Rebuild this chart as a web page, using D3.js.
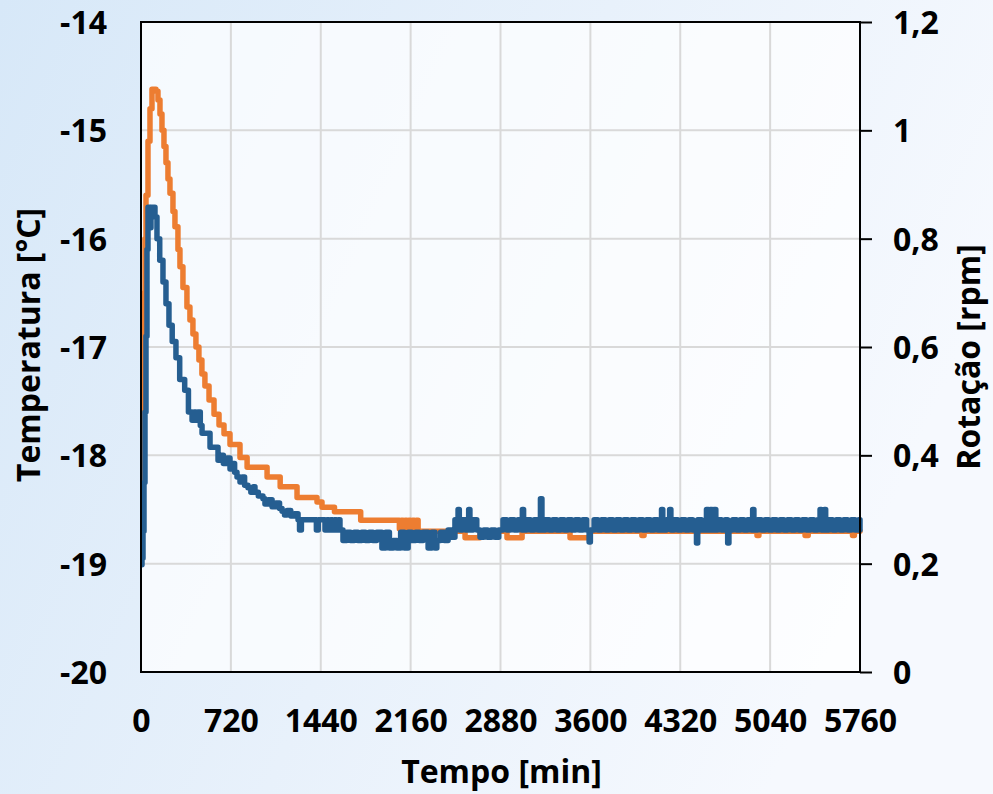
<!DOCTYPE html>
<html>
<head>
<meta charset="utf-8">
<script src="https://cdn.jsdelivr.net/npm/d3@7"></script>
<style>
  html, body { margin: 0; padding: 0; }
  body { width: 993px; height: 794px; overflow: hidden; }
  svg text { font-family: "Open Sans", "DejaVu Sans", sans-serif; font-weight: 700; fill: #000; }
</style>
</head>
<body>
<svg id="chart" width="993" height="794"></svg>
<script>
// ---------- data ----------
const timeTicks = [0, 720, 1440, 2160, 2880, 3600, 4320, 5040, 5760];
const tempTicks = [-20, -19, -18, -17, -16, -15, -14];
const rotTicks = [0, 0.2, 0.4, 0.6, 0.8, 1.0, 1.2];
const rotTickLabels = ["0", "0,2", "0,4", "0,6", "0,8", "1", "1,2"];

const xTitle = "Tempo [min]";
const yLeftTitle = "Temperatura [°C]";
const yRightTitle = "Rotação [rpm]";

// Temperatura (orange, left axis): [minutes, °C]
const temperatura = [
  [0,-18.60],[8,-17.9],[16,-17.2],[24,-16.5],[32,-16.0],[40,-15.6],[56,-15.1],[72,-14.8],
  [88,-14.62],[120,-14.64],[136,-14.72],[152,-14.85],[168,-15.0],[184,-15.15],[200,-15.3],
  [216,-15.45],[232,-15.58],[256,-15.75],[272,-15.89],[296,-16.1],[312,-16.26],[336,-16.45],
  [368,-16.63],[392,-16.75],[416,-16.88],[440,-17.0],[464,-17.12],[488,-17.25],[512,-17.36],
  [545,-17.49],[585,-17.62],[625,-17.72],[665,-17.80],[713,-17.90],[793,-18.02],[850,-18.11],
  [1010,-18.20],[1115,-18.29],[1250,-18.39],[1410,-18.43],[1450,-18.48],[1550,-18.52],
  [1760,-18.60],[2070,-18.68],[2085,-18.60],[2100,-18.68],[2115,-18.60],[2130,-18.68],
  [2145,-18.60],[2160,-18.68],[2175,-18.60],[2190,-18.68],[2205,-18.60],[2220,-18.70],
  [2596,-18.76],[2716,-18.70],[2932,-18.76],[3053,-18.70],[3437,-18.76],[3597,-18.70],
  [4013,-18.74],[4030,-18.70],[4935,-18.74],[4950,-18.70],[5320,-18.74],[5345,-18.70],
  [5700,-18.74],[5715,-18.70],[5760,-18.70]
];

// Rotação (blue, right axis): [minutes, rpm]
const rotacao = [
  [0,0.198],[8,0.21],[16,0.26],[24,0.35],[32,0.48],[40,0.62],[48,0.78],[56,0.858],[72,0.82],
  [80,0.858],[112,0.84],[128,0.80],[150,0.76],[176,0.72],[200,0.68],[224,0.64],[250,0.61],
  [280,0.58],[310,0.54],[350,0.52],[380,0.48],[409,0.465],[425,0.48],[440,0.465],[455,0.48],
  [475,0.455],[489,0.441],[553,0.415],[617,0.391],[640,0.40],[660,0.385],[690,0.395],
  [713,0.375],[730,0.385],[750,0.369],[769,0.36],[793,0.351],[810,0.36],[830,0.345],
  [857,0.34],[880,0.332],[900,0.342],[913,0.332],[940,0.325],[977,0.32],[993,0.31],
  [1020,0.318],[1050,0.305],[1080,0.312],[1110,0.302],[1130,0.297],[1150,0.29],[1170,0.298],
  [1200,0.288],[1230,0.292],[1258,0.281],[1270,0.262],[1285,0.281],[1405,0.262],[1420,0.281],
  [1474,0.262],[1490,0.281],[1505,0.262],[1520,0.281],[1535,0.262],[1550,0.281],[1565,0.262],
  [1580,0.281],[1594,0.262],
  [1618,0.243],[1648,0.258],[1678,0.243],[1708,0.258],[1738,0.243],[1768,0.258],[1798,0.243],
  [1828,0.258],[1858,0.243],[1888,0.258],[1930,0.229],[1960,0.258],[1990,0.229],[2020,0.243],
  [2050,0.229],[2080,0.258],[2110,0.229],[2140,0.258],[2170,0.243],[2200,0.258],[2230,0.243],
  [2260,0.258],[2300,0.229],[2330,0.258],[2355,0.229],[2370,0.243],[2400,0.258],[2430,0.243],
  [2460,0.262],[2490,0.249],
  [2515,0.281],[2540,0.30],[2550,0.262],[2575,0.281],[2600,0.262],[2625,0.30],[2635,0.262],
  [2660,0.281],[2690,0.262],
  [2716,0.249],[2746,0.262],[2776,0.249],[2806,0.262],[2836,0.249],[2866,0.262],
  [2900,0.281],[2930,0.262],[2960,0.281],[2990,0.262],[3020,0.281],[3050,0.262],[3055,0.30],
  [3065,0.262],[3090,0.281],[3120,0.262],[3150,0.281],[3180,0.262],[3200,0.32],[3212,0.262],
  [3240,0.281],[3270,0.262],[3300,0.281],[3330,0.262],[3360,0.281],[3390,0.262],[3420,0.281],
  [3450,0.262],[3480,0.281],[3510,0.262],[3540,0.281],[3570,0.262],[3590,0.24],[3600,0.262],
  [3630,0.281],[3660,0.262],[3690,0.281],[3720,0.262],[3750,0.281],[3780,0.262],[3810,0.281],
  [3840,0.262],[3870,0.281],[3900,0.262],[3930,0.281],[3960,0.262],[3990,0.281],[4020,0.262],
  [4050,0.281],[4080,0.262],[4110,0.281],[4140,0.262],[4170,0.30],[4180,0.262],[4210,0.281],
  [4235,0.30],[4245,0.262],[4270,0.281],[4300,0.262],[4330,0.281],[4360,0.262],[4390,0.281],
  [4420,0.262],[4450,0.238],[4460,0.281],[4490,0.262],[4530,0.30],[4545,0.262],[4560,0.30],
  [4575,0.262],[4590,0.30],[4605,0.262],[4620,0.281],[4650,0.262],[4680,0.281],[4700,0.238],
  [4710,0.262],[4740,0.281],[4770,0.262],[4800,0.281],[4830,0.262],[4860,0.281],[4890,0.262],
  [4900,0.30],[4910,0.262],[4940,0.281],[4970,0.262],[5000,0.281],[5030,0.262],[5060,0.281],
  [5090,0.262],[5120,0.281],[5150,0.262],[5180,0.281],[5210,0.262],[5240,0.281],[5270,0.262],
  [5300,0.281],[5330,0.262],[5360,0.281],[5390,0.262],[5420,0.281],[5440,0.30],[5450,0.262],
  [5475,0.30],[5485,0.262],[5510,0.281],[5540,0.262],[5570,0.281],[5600,0.262],[5630,0.281],
  [5660,0.262],[5690,0.281],[5720,0.262],[5750,0.281],[5760,0.262]
];

// ---------- layout ----------
const W = 993, H = 794;
const plot = { left: 141, right: 860, top: 22, bottom: 672 };

const svg = d3.select("#chart");

const defs = svg.append("defs");
const bg = defs.append("linearGradient").attr("id", "bg")
  .attr("x1", "0").attr("y1", "0").attr("x2", "1").attr("y2", "0.35");
bg.append("stop").attr("offset", "0").attr("stop-color", "#d7e8f8");
bg.append("stop").attr("offset", "0.55").attr("stop-color", "#e8f1fb");
bg.append("stop").attr("offset", "1").attr("stop-color", "#f6f9fe");
defs.append("clipPath").attr("id", "clip").append("rect")
  .attr("x", plot.left).attr("y", plot.top - 5)
  .attr("width", plot.right - plot.left + 3).attr("height", plot.bottom - plot.top + 10);

svg.append("rect").attr("width", W).attr("height", H).attr("fill", "url(#bg)");
svg.append("rect").attr("x", plot.left).attr("y", plot.top)
  .attr("width", plot.right - plot.left).attr("height", plot.bottom - plot.top)
  .attr("fill", "#ffffff").attr("fill-opacity", 0.72);

const x = d3.scaleLinear().domain([0, 5760]).range([plot.left, plot.right]);
const yT = d3.scaleLinear().domain([-20, -14]).range([plot.bottom, plot.top]);
const yR = d3.scaleLinear().domain([0, 1.2]).range([plot.bottom, plot.top]);

// gridlines
const grid = svg.append("g").attr("stroke", "#d9d9d9").attr("stroke-width", 2);
grid.selectAll("line.v").data(timeTicks).join("line").attr("class", "v")
  .attr("x1", d => x(d)).attr("x2", d => x(d)).attr("y1", plot.top).attr("y2", plot.bottom);
grid.selectAll("line.h").data(tempTicks).join("line").attr("class", "h")
  .attr("x1", plot.left).attr("x2", plot.right).attr("y1", d => yT(d)).attr("y2", d => yT(d));

// series
const lineT = d3.line().x(d => x(d[0])).y(d => yT(d[1])).curve(d3.curveStepAfter);
const lineR = d3.line().x(d => x(d[0])).y(d => yR(d[1])).curve(d3.curveStepAfter);
const series = svg.append("g").attr("clip-path", "url(#clip)");
series.append("path").datum(temperatura).attr("d", lineT)
  .attr("fill", "none").attr("stroke", "#ED7D31").attr("stroke-width", 5.5)
  .attr("stroke-linejoin", "round").attr("stroke-linecap", "round");
series.append("path").datum(rotacao).attr("d", lineR)
  .attr("fill", "none").attr("stroke", "#255E91").attr("stroke-width", 5.5)
  .attr("stroke-linejoin", "round").attr("stroke-linecap", "round");

// frame
svg.append("rect").attr("x", plot.left).attr("y", plot.top)
  .attr("width", plot.right - plot.left).attr("height", plot.bottom - plot.top)
  .attr("fill", "none").attr("stroke", "#000").attr("stroke-width", 2);

// axes
const fs = 32;
const gx = svg.append("g").attr("transform", `translate(0,${plot.bottom})`)
  .call(d3.axisBottom(x).tickValues(timeTicks).tickFormat(d3.format("d")).tickSize(0).tickPadding(37));
const gl = svg.append("g").attr("transform", `translate(${plot.left},0)`)
  .call(d3.axisLeft(yT).tickValues(tempTicks).tickFormat(d => String(d)).tickSize(0).tickPadding(34));
const gr = svg.append("g").attr("transform", `translate(${plot.right},0)`)
  .call(d3.axisRight(yR).tickValues(rotTicks).tickFormat((d, i) => rotTickLabels[i]).tickSizeInner(12).tickSizeOuter(0).tickPadding(21));
[gx, gl, gr].forEach(g => {
  g.select(".domain").remove();
  g.selectAll("text").attr("font-size", fs).attr("font-family", null).style("font-weight", 700).attr("fill", "#000");
  g.selectAll(".tick line").attr("stroke", "#000").attr("stroke-width", 2);
});
gl.selectAll("text").attr("dy", "0.36em");
gr.selectAll("text").attr("dy", "0.36em");

// titles
svg.append("text").attr("x", (plot.left + plot.right) / 2 + 1).attr("y", 783)
  .attr("text-anchor", "middle").attr("font-size", fs).text(xTitle);
svg.append("text").attr("transform", "translate(40,345) rotate(-90)")
  .attr("text-anchor", "middle").attr("font-size", fs).text(yLeftTitle);
svg.append("text").attr("transform", "translate(980,357) rotate(-90)")
  .attr("text-anchor", "middle").attr("font-size", fs).text(yRightTitle);
</script>
</body>
</html>
